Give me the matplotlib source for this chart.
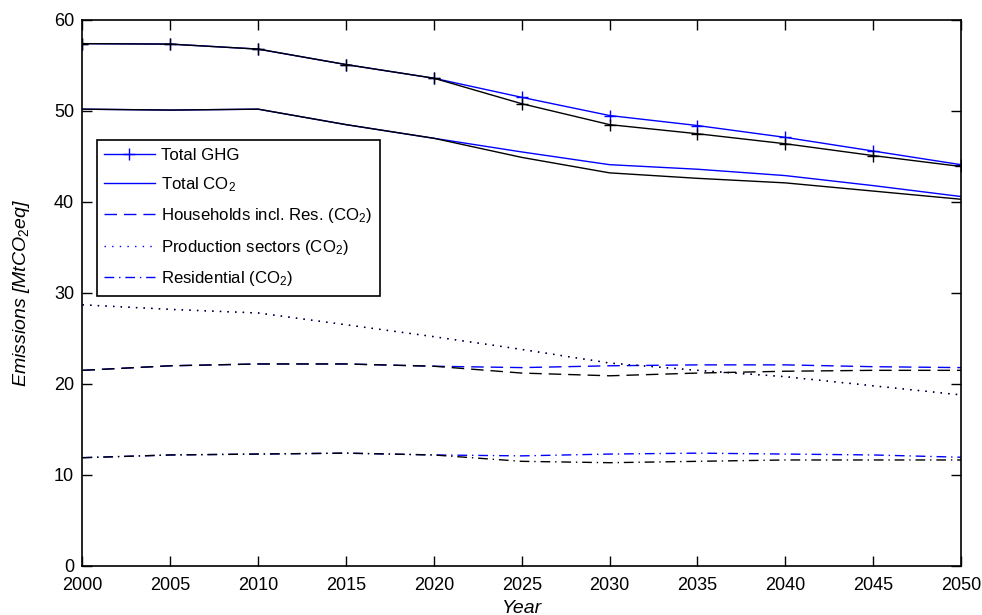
import matplotlib
matplotlib.use("Agg")
import matplotlib.pyplot as plt

plt.rcParams['font.family'] = ['Liberation Sans', 'DejaVu Sans']
plt.rcParams['mathtext.fontset'] = 'custom'
plt.rcParams['mathtext.rm'] = 'Liberation Sans'
plt.rcParams['mathtext.it'] = 'Liberation Sans:italic'
plt.rcParams['lines.scale_dashes'] = False

years = [2000, 2005, 2010, 2015, 2020, 2025, 2030, 2035, 2040, 2045, 2050]

# Scenario A (blue)
ghg_blue = [57.4, 57.35, 56.8, 55.1, 53.6, 51.5, 49.5, 48.4, 47.1, 45.6, 44.1]
co2_blue = [50.2, 50.1, 50.2, 48.5, 47.0, 45.5, 44.1, 43.6, 42.9, 41.8, 40.6]
hh_blue = [21.5, 22.0, 22.2, 22.2, 21.95, 21.8, 22.0, 22.1, 22.1, 21.9, 21.8]
prod_blue = [28.7, 28.2, 27.8, 26.5, 25.2, 23.8, 22.3, 21.5, 20.8, 19.8, 18.8]
res_blue = [11.9, 12.2, 12.3, 12.4, 12.2, 12.1, 12.3, 12.4, 12.3, 12.2, 11.95]

# Scenario B (black)
ghg_black = [57.4, 57.35, 56.8, 55.1, 53.6, 50.8, 48.5, 47.5, 46.4, 45.1, 43.9]
co2_black = [50.2, 50.1, 50.2, 48.5, 47.0, 44.9, 43.2, 42.6, 42.1, 41.2, 40.3]
hh_black = [21.5, 22.0, 22.2, 22.2, 21.95, 21.2, 20.9, 21.2, 21.4, 21.5, 21.5]
prod_black = [28.7, 28.2, 27.8, 26.5, 25.2, 23.8, 22.3, 21.5, 20.8, 19.8, 18.8]
res_black = [11.9, 12.2, 12.3, 12.4, 12.2, 11.5, 11.35, 11.5, 11.65, 11.65, 11.65]

labels = ['Total GHG', r'Total CO$_2$', r'Households incl. Res. (CO$_2$)',
          r'Production sectors (CO$_2$)', r'Residential (CO$_2$)']
xticks = list(range(2000, 2051, 5))
yticks = list(range(0, 61, 10))

dashed = (0, (9, 5))
dotted = (0, (1, 4.5))
dashdot = (0, (7, 3.5, 1, 3.5))

fig = plt.figure(figsize=(9.82, 6.15), dpi=100)
ax = fig.add_axes([0.084, 0.0797, 0.8946, 0.8878])

lw = 1.0
handles = []
for col, series in [('#0000ff', (ghg_blue, co2_blue, hh_blue, prod_blue, res_blue)),
                    ('black', (ghg_black, co2_black, hh_black, prod_black, res_black))]:
    g, c, h, p, r = series
    l1, = ax.plot(years, g, color=col, lw=lw, marker='+', markersize=9, markeredgewidth=1.0)
    l2, = ax.plot(years, c, color=col, lw=lw)
    l3, = ax.plot(years, h, color=col, lw=lw, linestyle=dashed)
    l4, = ax.plot(years, p, color=col, lw=lw, linestyle=dotted)
    l5, = ax.plot(years, r, color=col, lw=lw, linestyle=dashdot)
    if col != 'black':
        handles = [l1, l2, l3, l4, l5]

ax.set_xlim(2000, 2050)
ax.set_ylim(0, 60)
ax.set_xticks(xticks)
ax.set_yticks(yticks)
ax.tick_params(direction='in', length=7, width=1.0, top=True, right=True,
               labelsize=13)
ax.tick_params(axis='x', pad=8)
ax.tick_params(axis='y', pad=6)
for s in ax.spines.values():
    s.set_linewidth(1.2)

ax.set_xlabel('Year', style='italic', fontsize=14, labelpad=4)
ax.set_ylabel(r'Emissions [MtCO$_\mathit{2}$eq]', style='italic', fontsize=14, labelpad=16)

leg = ax.legend(handles, labels, loc='upper left', bbox_to_anchor=(0.016, 0.780),
                borderaxespad=0, fontsize=12.1, numpoints=1, handlelength=3.0,
                handletextpad=0.4, labelspacing=0.74, borderpad=0.45,
                fancybox=False, framealpha=1, edgecolor='black')
leg.get_frame().set_linewidth(1.2)

fig.savefig('out.png', dpi=100)
